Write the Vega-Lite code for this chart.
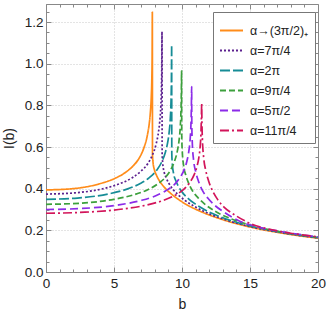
{
"$schema": "https://vega.github.io/schema/vega-lite/v6.json",
"width": 272, "height": 268,
"autosize": {"type": "none"},
"padding": {"left": 46, "top": 4, "right": 9, "bottom": 42},
"config": {"view": {"stroke": "#888", "strokeWidth": 1}, "font": "Liberation Sans"},
"data": {"values": [
{"s":"α→(3π/2)₊","b":0,"I":0.394},{"s":"α→(3π/2)₊","b":1.955,"I":0.400},{"s":"α→(3π/2)₊","b":3.91,"I":0.423},{"s":"α→(3π/2)₊","b":5.083,"I":0.450},{"s":"α→(3π/2)₊","b":5.865,"I":0.479},{"s":"α→(3π/2)₊","b":6.412,"I":0.510},{"s":"α→(3π/2)₊","b":6.882,"I":0.550},{"s":"α→(3π/2)₊","b":7.194,"I":0.595},{"s":"α→(3π/2)₊","b":7.429,"I":0.649},{"s":"α→(3π/2)₊","b":7.585,"I":0.709},{"s":"α→(3π/2)₊","b":7.664,"I":0.758},{"s":"α→(3π/2)₊","b":7.742,"I":0.842},{"s":"α→(3π/2)₊","b":7.781,"I":0.927},{"s":"α→(3π/2)₊","b":7.804,"I":1.041},{"s":"α→(3π/2)₊","b":7.82,"I":1.247},
{"s":"α→(3π/2)₊","b":7.83,"I":0.564},{"s":"α→(3π/2)₊","b":7.87,"I":0.526},{"s":"α→(3π/2)₊","b":7.97,"I":0.491},{"s":"α→(3π/2)₊","b":8.12,"I":0.465},{"s":"α→(3π/2)₊","b":8.32,"I":0.440},{"s":"α→(3π/2)₊","b":8.62,"I":0.413},{"s":"α→(3π/2)₊","b":9.02,"I":0.386},{"s":"α→(3π/2)₊","b":9.52,"I":0.359},{"s":"α→(3π/2)₊","b":10.22,"I":0.328},{"s":"α→(3π/2)₊","b":11.32,"I":0.292},{"s":"α→(3π/2)₊","b":12.82,"I":0.255},{"s":"α→(3π/2)₊","b":15,"I":0.216},{"s":"α→(3π/2)₊","b":17.5,"I":0.185},{"s":"α→(3π/2)₊","b":20,"I":0.162},
{"s":"α=7π/4","b":0,"I":0.374},{"s":"α=7π/4","b":2.133,"I":0.380},{"s":"α=7π/4","b":4.265,"I":0.401},{"s":"α=7π/4","b":5.545,"I":0.427},{"s":"α=7π/4","b":6.398,"I":0.455},{"s":"α=7π/4","b":6.995,"I":0.485},{"s":"α=7π/4","b":7.506,"I":0.522},{"s":"α=7π/4","b":7.848,"I":0.565},{"s":"α=7π/4","b":8.104,"I":0.616},{"s":"α=7π/4","b":8.274,"I":0.673},{"s":"α=7π/4","b":8.359,"I":0.719},{"s":"α=7π/4","b":8.445,"I":0.799},{"s":"α=7π/4","b":8.487,"I":0.880},{"s":"α=7π/4","b":8.513,"I":0.988},{"s":"α=7π/4","b":8.53,"I":1.153},
{"s":"α=7π/4","b":8.54,"I":0.570},{"s":"α=7π/4","b":8.58,"I":0.524},{"s":"α=7π/4","b":8.68,"I":0.482},{"s":"α=7π/4","b":8.83,"I":0.453},{"s":"α=7π/4","b":9.03,"I":0.426},{"s":"α=7π/4","b":9.33,"I":0.397},{"s":"α=7π/4","b":9.73,"I":0.370},{"s":"α=7π/4","b":10.23,"I":0.343},{"s":"α=7π/4","b":10.93,"I":0.314},{"s":"α=7π/4","b":12.03,"I":0.279},{"s":"α=7π/4","b":13.53,"I":0.244},{"s":"α=7π/4","b":15,"I":0.218},{"s":"α=7π/4","b":17.5,"I":0.187},{"s":"α=7π/4","b":20,"I":0.1635},
{"s":"α=2π","b":0,"I":0.349},{"s":"α=2π","b":2.31,"I":0.355},{"s":"α=2π","b":4.62,"I":0.375},{"s":"α=2π","b":6.006,"I":0.399},{"s":"α=2π","b":6.93,"I":0.425},{"s":"α=2π","b":7.577,"I":0.452},{"s":"α=2π","b":8.131,"I":0.488},{"s":"α=2π","b":8.501,"I":0.527},{"s":"α=2π","b":8.778,"I":0.575},{"s":"α=2π","b":8.963,"I":0.628},{"s":"α=2π","b":9.055,"I":0.671},{"s":"α=2π","b":9.148,"I":0.746},{"s":"α=2π","b":9.194,"I":0.821},{"s":"α=2π","b":9.222,"I":0.922},{"s":"α=2π","b":9.24,"I":1.09},
{"s":"α=2π","b":9.25,"I":0.569},{"s":"α=2π","b":9.29,"I":0.517},{"s":"α=2π","b":9.39,"I":0.470},{"s":"α=2π","b":9.54,"I":0.439},{"s":"α=2π","b":9.74,"I":0.411},{"s":"α=2π","b":10.04,"I":0.381},{"s":"α=2π","b":10.44,"I":0.354},{"s":"α=2π","b":10.94,"I":0.328},{"s":"α=2π","b":11.64,"I":0.300},{"s":"α=2π","b":12.74,"I":0.267},{"s":"α=2π","b":14.24,"I":0.234},{"s":"α=2π","b":15,"I":0.221},{"s":"α=2π","b":17.5,"I":0.1886},{"s":"α=2π","b":20,"I":0.165},
{"s":"α=9π/4","b":0,"I":0.325},{"s":"α=9π/4","b":2.4925,"I":0.330},{"s":"α=9π/4","b":4.985,"I":0.349},{"s":"α=9π/4","b":6.4805,"I":0.371},{"s":"α=9π/4","b":7.4775,"I":0.395},{"s":"α=9π/4","b":8.1754,"I":0.421},{"s":"α=9π/4","b":8.7736,"I":0.454},{"s":"α=9π/4","b":9.1724,"I":0.491},{"s":"α=9π/4","b":9.4715,"I":0.536},{"s":"α=9π/4","b":9.6709,"I":0.585},{"s":"α=9π/4","b":9.7706,"I":0.625},{"s":"α=9π/4","b":9.870,"I":0.695},{"s":"α=9π/4","b":9.920,"I":0.765},{"s":"α=9π/4","b":9.950,"I":0.858},{"s":"α=9π/4","b":9.97,"I":0.965},
{"s":"α=9π/4","b":9.98,"I":0.659},{"s":"α=9π/4","b":10.02,"I":0.579},{"s":"α=9π/4","b":10.12,"I":0.511},{"s":"α=9π/4","b":10.27,"I":0.467},{"s":"α=9π/4","b":10.47,"I":0.429},{"s":"α=9π/4","b":10.77,"I":0.390},{"s":"α=9π/4","b":11.17,"I":0.357},{"s":"α=9π/4","b":11.67,"I":0.326},{"s":"α=9π/4","b":12.37,"I":0.294},{"s":"α=9π/4","b":13.47,"I":0.259},{"s":"α=9π/4","b":14.97,"I":0.226},{"s":"α=9π/4","b":17.5,"I":0.190},{"s":"α=9π/4","b":20,"I":0.1665},
{"s":"α=5π/2","b":0,"I":0.300},{"s":"α=5π/2","b":2.678,"I":0.305},{"s":"α=5π/2","b":5.355,"I":0.322},{"s":"α=5π/2","b":6.962,"I":0.343},{"s":"α=5π/2","b":8.033,"I":0.365},{"s":"α=5π/2","b":8.782,"I":0.389},{"s":"α=5π/2","b":9.425,"I":0.419},{"s":"α=5π/2","b":9.853,"I":0.453},{"s":"α=5π/2","b":10.175,"I":0.494},{"s":"α=5π/2","b":10.389,"I":0.540},{"s":"α=5π/2","b":10.496,"I":0.577},{"s":"α=5π/2","b":10.603,"I":0.641},{"s":"α=5π/2","b":10.656,"I":0.706},{"s":"α=5π/2","b":10.689,"I":0.792},{"s":"α=5π/2","b":10.71,"I":0.89},
{"s":"α=5π/2","b":10.72,"I":0.713},{"s":"α=5π/2","b":10.76,"I":0.616},{"s":"α=5π/2","b":10.86,"I":0.533},{"s":"α=5π/2","b":11.01,"I":0.481},{"s":"α=5π/2","b":11.21,"I":0.436},{"s":"α=5π/2","b":11.51,"I":0.391},{"s":"α=5π/2","b":11.91,"I":0.354},{"s":"α=5π/2","b":12.41,"I":0.320},{"s":"α=5π/2","b":13.11,"I":0.287},{"s":"α=5π/2","b":14.21,"I":0.245},{"s":"α=5π/2","b":15.71,"I":0.214},{"s":"α=5π/2","b":17.5,"I":0.192},{"s":"α=5π/2","b":20,"I":0.168},
{"s":"α=11π/4","b":0,"I":0.282},{"s":"α=11π/4","b":2.863,"I":0.287},{"s":"α=11π/4","b":5.725,"I":0.303},{"s":"α=11π/4","b":7.443,"I":0.322},{"s":"α=11π/4","b":8.588,"I":0.343},{"s":"α=11π/4","b":9.389,"I":0.365},{"s":"α=11π/4","b":10.076,"I":0.394},{"s":"α=11π/4","b":10.534,"I":0.426},{"s":"α=11π/4","b":10.878,"I":0.465},{"s":"α=11π/4","b":11.107,"I":0.508},{"s":"α=11π/4","b":11.221,"I":0.542},{"s":"α=11π/4","b":11.336,"I":0.603},{"s":"α=11π/4","b":11.393,"I":0.664},{"s":"α=11π/4","b":11.427,"I":0.745},{"s":"α=11π/4","b":11.45,"I":0.81},
{"s":"α=11π/4","b":11.46,"I":0.747},{"s":"α=11π/4","b":11.50,"I":0.638},{"s":"α=11π/4","b":11.60,"I":0.545},{"s":"α=11π/4","b":11.75,"I":0.487},{"s":"α=11π/4","b":11.95,"I":0.438},{"s":"α=11π/4","b":12.25,"I":0.389},{"s":"α=11π/4","b":12.65,"I":0.345},{"s":"α=11π/4","b":13.15,"I":0.308},{"s":"α=11π/4","b":13.85,"I":0.275},{"s":"α=11π/4","b":14.95,"I":0.235},{"s":"α=11π/4","b":16.45,"I":0.205},{"s":"α=11π/4","b":18,"I":0.186},{"s":"α=11π/4","b":20,"I":0.169}
]},
"resolve": {"axis": {"x": "independent", "y": "independent"}},
"layer": [
{
"mark": {"type": "line", "strokeWidth": 1.7, "interpolate": "monotone", "clip": true},
"encoding": {
"x": {"field": "b", "type": "quantitative", "title": "b",
 "scale": {"domain": [0, 20], "nice": false, "zero": false},
 "axis": {"values": [0,1,2,3,4,5,6,7,8,9,10,11,12,13,14,15,16,17,18,19,20], "format": "d",
  "labelExpr": "datum.value % 5 === 0 ? datum.label : ''",
  "tickSize": {"condition": {"test": "datum.value % 5 === 0", "value": -5}, "value": -3},
  "labelPadding": 9, "labelFontSize": 13.5, "labelColor": "#222", "labelFlush": false,
  "tickColor": "#888", "domainColor": "#888",
  "grid": true, "gridColor": "#c8c8c8", "gridDash": [1, 2],
  "gridOpacity": {"condition": {"test": "datum.value % 5 === 0 && datum.value > 0 && datum.value < 20", "value": 1}, "value": 0},
  "titleFontSize": 14, "titleFontWeight": "normal", "titleColor": "#222", "titlePadding": 8}},
"y": {"field": "I", "type": "quantitative", "title": "I(b)",
 "scale": {"domain": [0, 1.2866], "nice": false},
 "axis": {"values": [0,0.05,0.1,0.15,0.2,0.25,0.3,0.35,0.4,0.45,0.5,0.55,0.6,0.65,0.7,0.75,0.8,0.85,0.9,0.95,1.0,1.05,1.1,1.15,1.2,1.25], "format": ".1f",
  "labelExpr": "abs(datum.value*5 - round(datum.value*5)) < 0.001 ? datum.label : ''",
  "tickSize": {"condition": {"test": "abs(datum.value*5 - round(datum.value*5)) < 0.001", "value": -5}, "value": -3},
  "labelPadding": 8, "labelFontSize": 13.5, "labelColor": "#222", "labelFlush": false,
  "tickColor": "#888", "domainColor": "#888",
  "grid": true, "gridColor": "#c8c8c8", "gridDash": [1, 2],
  "gridOpacity": {"condition": {"test": "abs(datum.value*5 - round(datum.value*5)) < 0.001 && datum.value > 0.01", "value": 1}, "value": 0},
  "titleFontSize": 14, "titleFontWeight": "normal", "titleColor": "#222", "titlePadding": 8}},
"color": {"field": "s", "type": "nominal",
 "scale": {"domain": ["α→(3π/2)₊","α=7π/4","α=2π","α=9π/4","α=5π/2","α=11π/4"],
  "range": ["#FF8C1A","#5B1F8E","#168C96","#3CA03C","#8B2BE8","#D2145A"]},
 "legend": {"orient": "none", "legendX": 167, "legendY": 8, "title": null, "symbolType": "stroke", "symbolSize": 530, "symbolStrokeWidth": 1.8, "labelFontSize": 12.5, "labelColor": "#222", "strokeColor": "#777", "fillColor": "white", "padding": 6, "rowPadding": 1, "labelLimit": 200, "labelOffset": 6}},
"strokeDash": {"field": "s", "type": "nominal",
 "scale": {"domain": ["α→(3π/2)₊","α=7π/4","α=2π","α=9π/4","α=5π/2","α=11π/4"],
  "range": [[1,0],[2,2],[10,3],[6,3],[8,4],[9,3,2,3]]},
 "legend": {"orient": "none", "legendX": 167, "legendY": 8, "title": null, "symbolType": "stroke", "symbolSize": 530, "symbolStrokeWidth": 1.8, "labelFontSize": 12.5, "labelColor": "#222", "strokeColor": "#777", "fillColor": "white", "padding": 6, "rowPadding": 1, "labelLimit": 200, "labelOffset": 6}}
}
},
{
"mark": {"type": "line", "strokeOpacity": 0},
"encoding": {
"x": {"field": "b", "type": "quantitative",
 "axis": {"orient": "top", "values": [0,1,2,3,4,5,6,7,8,9,10,11,12,13,14,15,16,17,18,19,20], "labels": false, "title": null, "grid": false, "domain": false,
  "tickColor": "#888", "tickSize": {"condition": {"test": "datum.value % 5 === 0", "value": -5}, "value": -3}}},
"y": {"field": "I", "type": "quantitative",
 "axis": {"orient": "right", "values": [0,0.05,0.1,0.15,0.2,0.25,0.3,0.35,0.4,0.45,0.5,0.55,0.6,0.65,0.7,0.75,0.8,0.85,0.9,0.95,1.0,1.05,1.1,1.15,1.2,1.25], "labels": false, "title": null, "grid": false, "domain": false,
  "tickColor": "#888", "tickSize": {"condition": {"test": "abs(datum.value*5 - round(datum.value*5)) < 0.001", "value": -5}, "value": -3}}}
}
}
]
}
